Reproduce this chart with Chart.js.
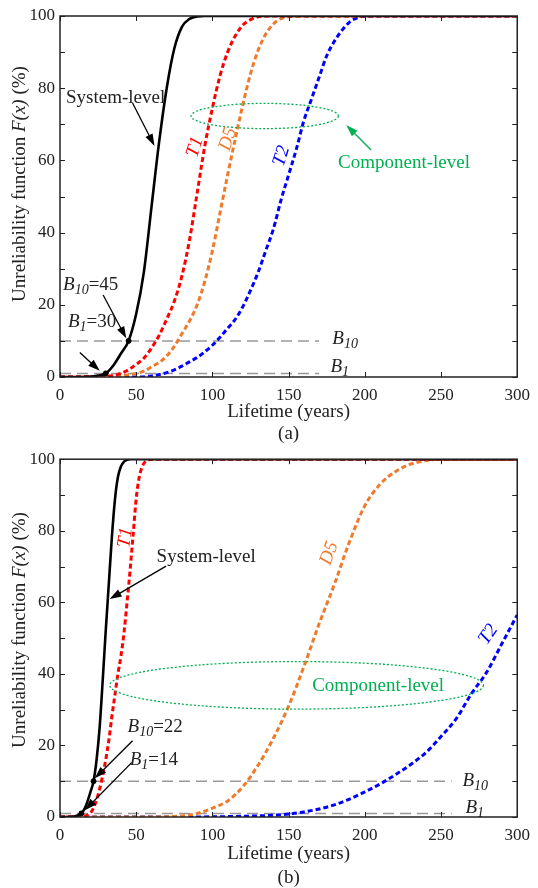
<!DOCTYPE html>
<html>
<head>
<meta charset="utf-8">
<script src="https://cdn.jsdelivr.net/npm/chart.js@4.4.1/dist/chart.umd.min.js"></script>
<style>
  html, body { margin: 0; padding: 0; background: #fff; }
  .panel { position: absolute; left: 0; width: 538px; height: 444px; }
</style>
</head>
<body>
<div class="panel" style="top:0"><canvas id="chartA"></canvas></div>
<div class="panel" style="top:444px"><canvas id="chartB"></canvas></div>
<script>
// ---- data: lifetime (years) vs F(x) (%) ----
// panel (a)
const sysYearsA = [0, 10, 20, 25, 30, 35, 40, 45, 50, 55, 60, 65, 70, 75, 80, 85, 90, 95, 300];
const sysValsA  = [0, 0, 0.1, 0.4, 1, 3.2, 6.5, 10, 17.5, 29, 47, 65, 80, 91, 97, 99.2, 99.9, 100, 100];
const t1YearsA  = [0, 30, 40, 45, 50, 55, 60, 65, 70, 75, 80, 85, 90, 95, 100, 105, 110, 115, 120, 125, 130, 140, 300];
const t1ValsA   = [0, 0.2, 1, 2, 3.5, 5.2, 8, 11.5, 16, 21, 28, 38, 51, 64, 74.5, 83.5, 90, 94.5, 97.5, 99, 99.8, 100, 100];
const d5YearsA  = [0, 30, 40, 50, 55, 60, 65, 70, 75, 80, 85, 90, 95, 100, 105, 110, 115, 120, 125, 130, 135, 140, 145, 150, 160, 300];
const d5ValsA   = [0, 0, 0.3, 1, 1.6, 2.8, 4, 5.8, 8.5, 12, 15.5, 20, 26.5, 35, 45.5, 56, 66, 75.5, 84, 90.5, 95, 97.8, 99.3, 99.8, 100, 100];
const t2YearsA  = [0, 50, 60, 70, 75, 80, 85, 90, 95, 100, 105, 110, 115, 120, 125, 130, 135, 140, 145, 150, 155, 160, 165, 170, 175, 180, 185, 190, 195, 200, 210, 300];
const t2ValsA   = [0, 0, 0.3, 1.2, 2, 3, 4.2, 5.4, 7, 8.8, 11, 13.5, 16, 19.5, 24, 29, 35, 41, 49, 56, 63, 71, 77, 83, 89, 93, 96, 98.3, 99.5, 99.9, 100, 100];
const bLifeA    = [45, 30];   // B10, B1

// panel (b)
const sysYearsB = [0, 8, 10, 12, 14, 16, 18, 20, 22, 24, 26, 28, 30, 32, 34, 36, 38, 40, 42, 44, 46, 300];
const sysValsB  = [0, 0.05, 0.2, 0.5, 1, 2.2, 4.3, 7, 10, 16, 25, 38, 52, 65, 78, 88.5, 95, 98, 99.3, 99.8, 100, 100];
const t1YearsB  = [0, 10, 15, 20, 24, 28, 30, 32, 34, 36, 38, 40, 42, 44, 46, 48, 50, 52, 54, 56, 58, 62, 300];
const t1ValsB   = [0, 0, 0.2, 1.1, 4.8, 11.5, 16, 21.3, 28, 34, 40, 45, 51.5, 60, 69, 79, 89, 95, 98, 99.3, 99.8, 100, 100];
const d5YearsB  = [0, 60, 70, 80, 90, 100, 110, 120, 130, 140, 150, 160, 170, 180, 190, 200, 210, 220, 230, 240, 250, 300];
const d5ValsB   = [0, 0, 0.1, 0.3, 1, 2.5, 4.5, 8.5, 14.5, 22, 31, 42, 54, 65, 77, 87, 93, 96.5, 98.6, 99.6, 100, 100];
const t2YearsB  = [0, 60, 100, 120, 140, 160, 180, 200, 220, 240, 250, 260, 270, 280, 290, 300];
const t2ValsB   = [0, 0, 0.05, 0.2, 0.5, 1.4, 3.4, 7, 11.8, 18, 22.5, 27.5, 34.5, 40.5, 48.5, 56.5];
const bLifeB    = [22, 14];

// axes
const xTicks = [0, 50, 100, 150, 200, 250, 300];
const yTicks = [0, 10, 20, 30, 40, 50, 60, 70, 80, 90, 100];
const bLevels = [10, 1];

const FONT = '"Liberation Serif", "Times New Roman", serif';
const GREEN = '#00B050';
const ORANGE = '#EE7A2A';
const TEXT_SIZE = 19;

function pts(xs, ys) {
  return xs.map((x, i) => ({ x: x, y: ys[i] }));
}

function fontOf(seg, size) {
  const s = seg.sub ? Math.round(size * 0.72) : size;
  return (seg.it ? 'italic ' : '') + s + 'px ' + FONT;
}

// draws text made of plain / italic / subscript pieces
function richText(ctx, segs, x, y, size, color, align, angle) {
  ctx.save();
  ctx.translate(x, y);
  if (angle) ctx.rotate(angle * Math.PI / 180);
  let w = 0;
  segs.forEach(s => { ctx.font = fontOf(s, size); w += ctx.measureText(s.t).width; });
  let cx = align === 'center' ? -w / 2 : 0;
  ctx.fillStyle = color;
  ctx.textBaseline = 'middle';
  ctx.textAlign = 'left';
  segs.forEach(s => {
    ctx.font = fontOf(s, size);
    ctx.fillText(s.t, cx, s.sub ? size * 0.28 : 0);
    cx += ctx.measureText(s.t).width;
  });
  ctx.restore();
}

function arrow(ctx, x1, y1, x2, y2, color) {
  const a = Math.atan2(y2 - y1, x2 - x1);
  const L = 12, W = 4;
  ctx.save();
  ctx.strokeStyle = color;
  ctx.fillStyle = color;
  ctx.lineWidth = 1.3;
  ctx.beginPath();
  ctx.moveTo(x1, y1);
  ctx.lineTo(x2 - L * 0.7 * Math.cos(a), y2 - L * 0.7 * Math.sin(a));
  ctx.stroke();
  ctx.beginPath();
  ctx.moveTo(x2, y2);
  ctx.lineTo(x2 - L * Math.cos(a) + W * Math.sin(a), y2 - L * Math.sin(a) - W * Math.cos(a));
  ctx.lineTo(x2 - L * Math.cos(a) - W * Math.sin(a), y2 - L * Math.sin(a) + W * Math.cos(a));
  ctx.closePath();
  ctx.fill();
  ctx.restore();
}

const bSub = (n) => [{ t: 'B', it: true }, { t: n, it: true, sub: true }];

// annotation layout per panel, in data units (years, %)
const panelA = {
  id: 'chartA', padTop: 16, xAxisH: 67,
  sys: [sysYearsA, sysValsA], t1: [t1YearsA, t1ValsA], d5: [d5YearsA, d5ValsA], t2: [t2YearsA, t2ValsA],
  bLife: bLifeA, refEnd: 170,
  ellipse: [134.3, 72.3, 48.3, 3.5],
  yTitleY: 184, xTitleDy: 35, tagDy: 57, tag: '(a)',
  texts: [
    { segs: [{ t: 'System-level' }], x: 36.5, y: 77.3, color: '#222', align: 'center' },
    { segs: [{ t: 'T1', it: true }], x: 88.7, y: 63.7, color: '#FF0000', align: 'center', angle: -72 },
    { segs: [{ t: 'D5', it: true }], x: 110.2, y: 65.9, color: ORANGE, align: 'center', angle: -72 },
    { segs: [{ t: 'T2', it: true }], x: 145.4, y: 61.2, color: '#0000FF', align: 'center', angle: -72 },
    { segs: [{ t: 'Component-level' }], x: 225.7, y: 59.3, color: GREEN, align: 'center' },
    { segs: bSub('10').concat([{ t: '=45' }]), x: 2, y: 25.5, color: '#222', align: 'left' },
    { segs: bSub('1').concat([{ t: '=30' }]), x: 5.2, y: 15.2, color: '#222', align: 'left' },
    { segs: bSub('10'), x: 178.7, y: 10.5, color: '#222', align: 'left' },
    { segs: bSub('1'), x: 177.4, y: 2.8, color: '#222', align: 'left' }
  ],
  arrows: [
    [47.6, 75.9, 62, 64, '#000'],
    [28.3, 22.7, 43.5, 10.7, '#000'],
    [13, 6.8, 26.1, 1.7, '#000'],
    [204.1, 62.9, 187.8, 69.8, GREEN]
  ]
};

const panelB = {
  id: 'chartB', padTop: 12, xAxisH: 71,
  sys: [sysYearsB, sysValsB], t1: [t1YearsB, t1ValsB], d5: [d5YearsB, d5ValsB], t2: [t2YearsB, t2ValsB],
  bLife: bLifeB, refEnd: 257,
  ellipse: [155.2, 36.8, 122.6, 6.65],
  yTitleY: 186, xTitleDy: 37, tagDy: 61, tag: '(b)',
  texts: [
    { segs: [{ t: 'T1', it: true }], x: 43, y: 78.1, color: '#FF0000', align: 'center', angle: -82 },
    { segs: [{ t: 'System-level' }], x: 95.9, y: 72.6, color: '#222', align: 'center' },
    { segs: [{ t: 'D5', it: true }], x: 176.7, y: 73.7, color: ORANGE, align: 'center', angle: -70 },
    { segs: [{ t: 'T2', it: true }], x: 281.1, y: 51, color: '#0000FF', align: 'center', angle: -55 },
    { segs: [{ t: 'Component-level' }], x: 208.7, y: 36.6, color: GREEN, align: 'center' },
    { segs: bSub('10').concat([{ t: '=22' }]), x: 44.3, y: 25.2, color: '#222', align: 'left' },
    { segs: bSub('1').concat([{ t: '=14' }]), x: 45.7, y: 15.8, color: '#222', align: 'left' },
    { segs: bSub('10'), x: 264, y: 10.2, color: '#222', align: 'left' },
    { segs: bSub('1'), x: 266, y: 2.5, color: '#222', align: 'left' }
  ],
  arrows: [
    [69.6, 70.1, 32.6, 60.9, '#000'],
    [47.6, 21.3, 22.8, 10.8, '#000'],
    [47, 15.2, 16.3, 1.9, '#000']
  ]
};

// box, inward ticks, ellipse, arrows and labels
const decorPlugin = {
  id: 'decor',
  afterDatasetsDraw(chart) {
    const p = chart.config.options.plugins.decor.panel;
    const ctx = chart.ctx;
    const xs = chart.scales.x, ys = chart.scales.y;
    const a = chart.chartArea;

    // component-level ellipse
    const e = p.ellipse;
    ctx.save();
    ctx.strokeStyle = GREEN;
    ctx.lineWidth = 1.3;
    ctx.setLineDash([2, 2]);
    ctx.beginPath();
    ctx.ellipse(xs.getPixelForValue(e[0]), ys.getPixelForValue(e[1]),
      xs.getPixelForValue(e[0] + e[2]) - xs.getPixelForValue(e[0]),
      ys.getPixelForValue(e[1]) - ys.getPixelForValue(e[1] + e[3]), 0, 0, Math.PI * 2);
    ctx.stroke();
    ctx.restore();

    // frame
    ctx.save();
    ctx.strokeStyle = '#222';
    ctx.lineWidth = 1.5;
    ctx.strokeRect(a.left, a.top, a.right - a.left, a.bottom - a.top);
    ctx.lineWidth = 1;
    ctx.beginPath();
    xTicks.forEach(v => {
      const px = Math.round(xs.getPixelForValue(v)) + 0.5;
      ctx.moveTo(px, a.bottom); ctx.lineTo(px, a.bottom - 5);
      ctx.moveTo(px, a.top); ctx.lineTo(px, a.top + 5);
    });
    yTicks.forEach(v => {
      const py = Math.round(ys.getPixelForValue(v)) + 0.5;
      ctx.moveTo(a.left, py); ctx.lineTo(a.left + 5, py);
      ctx.moveTo(a.right, py); ctx.lineTo(a.right - 5, py);
    });
    ctx.stroke();
    ctx.restore();

    p.arrows.forEach(r => arrow(ctx, xs.getPixelForValue(r[0]), ys.getPixelForValue(r[1]),
      xs.getPixelForValue(r[2]), ys.getPixelForValue(r[3]), r[4]));

    p.texts.forEach(t => richText(ctx, t.segs, xs.getPixelForValue(t.x), ys.getPixelForValue(t.y),
      TEXT_SIZE, t.color, t.align, t.angle));

    // axis titles and panel tag
    const midX = (a.left + a.right) / 2;
    richText(ctx, [{ t: 'Lifetime (years)' }], midX, a.bottom + p.xTitleDy, TEXT_SIZE, '#222', 'center');
    richText(ctx, [{ t: p.tag }], midX, a.bottom + p.tagDy, TEXT_SIZE, '#222', 'center');
    richText(ctx, [{ t: 'Unreliability function ' }, { t: 'F(x)', it: true }, { t: ' (%)' }],
      20, p.yTitleY, TEXT_SIZE, '#222', 'center', -90);
  }
};

function buildChart(p) {
  const lineBase = { pointRadius: 0, fill: false, cubicInterpolationMode: 'monotone' };
  const datasets = [
    {
      label: 'B points', data: [{ x: p.bLife[0], y: bLevels[0] }, { x: p.bLife[1], y: bLevels[1] }],
      showLine: false, pointRadius: 2.5, backgroundColor: '#000', borderColor: '#000'
    },
    Object.assign({ label: 'System-level', data: pts(p.sys[0], p.sys[1]), borderColor: '#000', borderWidth: 2.6 }, lineBase),
    Object.assign({ label: 'T1', data: pts(p.t1[0], p.t1[1]), borderColor: '#FF0000', borderWidth: 3, borderDash: [5, 3] }, lineBase),
    Object.assign({ label: 'D5', data: pts(p.d5[0], p.d5[1]), borderColor: ORANGE, borderWidth: 3, borderDash: [5, 3] }, lineBase),
    Object.assign({ label: 'T2', data: pts(p.t2[0], p.t2[1]), borderColor: '#0000FF', borderWidth: 3, borderDash: [5, 3] }, lineBase),
    { label: 'B10', data: [{ x: 0, y: bLevels[0] }, { x: p.refEnd, y: bLevels[0] }], borderColor: '#999', borderWidth: 1.5, borderDash: [11, 6], pointRadius: 0 },
    { label: 'B1', data: [{ x: 0, y: bLevels[1] }, { x: p.refEnd, y: bLevels[1] }], borderColor: '#999', borderWidth: 1.5, borderDash: [11, 6], pointRadius: 0 }
  ];

  return new Chart(document.getElementById(p.id), {
    type: 'line',
    data: { datasets: datasets },
    options: {
      responsive: true,
      maintainAspectRatio: false,
      animation: false,
      layout: { padding: { top: p.padTop, right: 18, bottom: 0, left: 0 } },
      plugins: {
        legend: { display: false },
        tooltip: { enabled: false },
        decor: { panel: p }
      },
      scales: {
        x: {
          type: 'linear', min: 0, max: 300,
          grid: { display: false, drawTicks: false },
          border: { display: false },
          afterBuildTicks: (s) => { s.ticks = xTicks.map(v => ({ value: v })); },
          afterFit: (s) => { s.height = p.xAxisH; },
          ticks: { padding: 8, color: '#222', font: { family: FONT, size: 17 }, maxRotation: 0 }
        },
        y: {
          type: 'linear', min: 0, max: 100,
          grid: { display: false, drawTicks: false },
          border: { display: false },
          afterBuildTicks: (s) => { s.ticks = yTicks.filter(v => v % 20 === 0).map(v => ({ value: v })); },
          afterFit: (s) => { s.width = 60; },
          ticks: { padding: 5, color: '#222', font: { family: FONT, size: 17 } }
        }
      }
    },
    plugins: [decorPlugin]
  });
}

buildChart(panelA);
buildChart(panelB);
</script>
</body>
</html>
